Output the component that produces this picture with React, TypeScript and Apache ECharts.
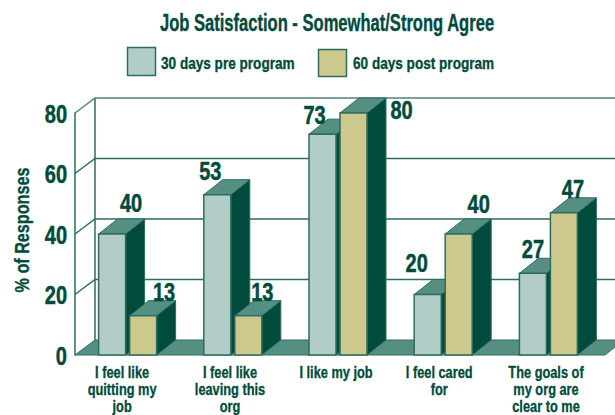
import React, { useEffect, useRef } from "react";
import * as echarts from "echarts";

const titleText = "Job Satisfaction - Somewhat/Strong Agree";
const yAxisName = "% of Responses";
const categories = [
  "I feel like\nquitting my\njob",
  "I feel like\nleaving this\norg",
  "I like my job",
  "I feel cared\nfor",
  "The goals of\nmy org are\nclear to me",
];
const preName = "30 days pre program";
const postName = "60 days post program";
const preValues = [40, 53, 73, 20, 27];
const postValues = [13, 13, 80, 40, 47];
const yTicks = [0, 20, 40, 60, 80];

const DARK = "#004b3c";
const EDGE = "#2c6d5f";
const TOP = "#558f83";
const PRE = "#b2cdc8";
const POST = "#cdc88c";
const FONT = "'Liberation Sans', Arial, sans-serif";
const DX = 19;
const DY = 15;
const BAR_W = 27;

const preLabelShift = [[19, -30], [-7, -23], [-8, -18], [-11, -31], [0, -24]];
const postLabelShift = [[21, -23], [14, -23], [48, -2], [20, -29], [9, -23]];
const catLabelShift = [-5.5, -2.8, -2, -4, -2.4];

function barItem(values: number[], color: string, side: number, shifts: number[][]) {
  return (params: any, api: any) => {
    const i = api.value(0);
    const p = api.coord([i, api.value(1)]);
    const base = api.coord([i, 0]);
    const x = side < 0 ? p[0] - 29 : p[0] + 2;
    const y = p[1];
    const w = BAR_W;
    const h = base[1] - y;
    const s = shifts[params.dataIndex];
    return {
      type: "group",
      children: [
        {
          type: "polygon",
          shape: { points: [[x + w, y], [x + w + DX, y - DY], [x + w + DX, base[1] - DY], [x + w, base[1]]] },
          style: { fill: DARK, stroke: EDGE, lineWidth: 1 },
        },
        {
          type: "polygon",
          shape: { points: [[x, y], [x + DX, y - DY], [x + w + DX, y - DY], [x + w, y]] },
          style: { fill: TOP, stroke: EDGE, lineWidth: 1 },
        },
        {
          type: "rect",
          shape: { x, y, width: w, height: h },
          style: { fill: color, stroke: EDGE, lineWidth: 1.5 },
        },
        {
          type: "text",
          x: x + w / 2 + s[0],
          y: y + s[1],
          scaleX: 0.8,
          z2: 20,
          style: {
            text: String(values[params.dataIndex]),
            fill: DARK,
            stroke: DARK,
            lineWidth: 0.5,
            font: `bold 25px ${FONT}`,
            align: "center",
            verticalAlign: "middle",
          },
        },
      ],
    };
  };
}

function wallItem(params: any, api: any) {
  const v = api.value(0);
  const p = api.coord([0, v]);
  const rect = params.coordSys;
  const left = rect.x;
  const right = rect.x + rect.width + 4;
  const y = p[1];
  const children: any[] = [
    {
      type: "text",
      x: left - 8,
      y: y + 1.5,
      scaleX: 0.8,
      style: {
        text: String(v),
        fill: DARK,
        stroke: DARK,
        lineWidth: 0.5,
        font: `bold 25px ${FONT}`,
        align: "right",
        verticalAlign: "middle",
      },
    },
  ];
  if (v === 0) {
    children.push({
      type: "polygon",
      shape: { points: [[left, y], [left + DX + 1, y - DY], [right + DX, y - DY], [right, y]] },
      style: { fill: TOP, stroke: EDGE, lineWidth: 1 },
    });
    children.push({
      type: "line",
      shape: { x1: left + DX + 1, y1: y - DY, x2: left + DX + 1, y2: rect.y - DY },
      style: { stroke: EDGE, lineWidth: 1.5 },
    });
  } else {
    children.push({
      type: "polyline",
      shape: { points: [[left, y], [left + DX + 1, y - DY], [right + DX, y - DY]] },
      style: { stroke: v === 80 ? "#4f8478" : EDGE, lineWidth: 1.5, fill: "none" },
    });
  }
  return { type: "group", children };
}

function catLabelItem(params: any, api: any) {
  const i = api.value(0);
  const p = api.coord([i, 0]);
  return {
    type: "text",
    x: p[0] + catLabelShift[i],
    y: p[1] + 8.5,
    scaleX: 0.8,
    style: {
      text: categories[i],
      fill: DARK,
      stroke: DARK,
      lineWidth: 0.3,
      font: `bold 16px ${FONT}`,
      lineHeight: 17,
      align: "center",
      verticalAlign: "top",
    },
  };
}

function graphicText(text: string, x: number, y: number, size: number, scaleX: number, align: string, rotation = 0) {
  return {
    type: "text",
    x,
    y,
    rotation,
    scaleX,
    style: {
      text,
      fill: DARK,
      stroke: DARK,
      lineWidth: 0.35,
      font: `bold ${size}px ${FONT}`,
      align,
      verticalAlign: "middle",
    },
  };
}

export default function App() {
  const ref = useRef<HTMLDivElement>(null);
  useEffect(() => {
    document.body.style.margin = "0";
    const chart = echarts.init(ref.current!, null, { renderer: "svg" });
    chart.setOption({
      animation: false,
      backgroundColor: "#ffffff",
      graphic: [
        graphicText(titleText, 327, 23, 23, 0.72, "center"),
        {
          type: "rect",
          shape: { x: 127.5, y: 47.5, width: 28, height: 28 },
          style: { fill: PRE, stroke: EDGE, lineWidth: 1.5 },
        },
        graphicText(preName, 161, 63, 17, 0.8, "left"),
        {
          type: "rect",
          shape: { x: 318.5, y: 49.5, width: 28, height: 27 },
          style: { fill: POST, stroke: EDGE, lineWidth: 1.5 },
        },
        graphicText(postName, 353, 63, 17, 0.8, "left"),
        graphicText(yAxisName, 22, 230, 21, 0.77, "center", Math.PI / 2),
      ],
      grid: { left: 75, top: 113, width: 526, height: 242, outerBoundsMode: "none" },
      xAxis: {
        type: "category",
        data: categories,
        axisLine: { show: false },
        axisTick: { show: false },
        axisLabel: { show: false },
      },
      yAxis: {
        type: "value",
        min: 0,
        max: 80,
        interval: 20,
        splitLine: { show: false },
        axisTick: { show: false },
        axisLine: { show: true, lineStyle: { color: EDGE, width: 1.5 } },
        axisLabel: { show: false },
      },
      series: [
        {
          type: "custom",
          name: "walls",
          silent: true,
          z: 1,
          renderItem: wallItem,
          encode: { y: 0 },
          data: yTicks.map((t) => [t]),
        },
        {
          type: "custom",
          name: preName,
          z: 3,
          itemStyle: { color: PRE },
          renderItem: barItem(preValues, PRE, -1, preLabelShift),
          encode: { x: 0, y: 1 },
          data: preValues.map((v, i) => [i, v]),
        },
        {
          type: "custom",
          name: postName,
          z: 4,
          itemStyle: { color: POST },
          renderItem: barItem(postValues, POST, 1, postLabelShift),
          encode: { x: 0, y: 1 },
          data: postValues.map((v, i) => [i, v]),
        },
        {
          type: "custom",
          name: "categoryLabels",
          silent: true,
          z: 5,
          renderItem: catLabelItem,
          encode: { x: 0 },
          data: categories.map((_, i) => [i]),
        },
      ],
    });
    return () => chart.dispose();
  }, []);
  return <div ref={ref} style={{ width: 615, height: 415 }} />;
}
